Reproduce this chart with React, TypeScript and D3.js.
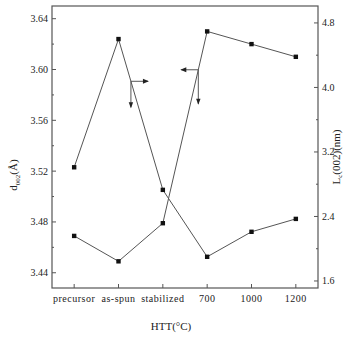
import React from 'react';
import * as d3 from 'd3';

const categories = ['precursor', 'as-spun', 'stabilized', '700', '1000', '1200'];
const d002 = [3.469, 3.449, 3.479, 3.630, 3.620, 3.610];
const lc = [3.01, 4.60, 2.73, 1.90, 2.21, 2.37];
const leftTicks = [3.44, 3.48, 3.52, 3.56, 3.60, 3.64];
const leftMinor = [3.46, 3.50, 3.54, 3.58, 3.62];
const rightTicks = [1.6, 2.4, 3.2, 4.0, 4.8];
const rightMinor = [2.0, 2.8, 3.6, 4.4];

const W = 344;
const H = 338;
const left = 52, right = 318, top = 6, bottom = 288;
const font = '"Liberation Serif", "DejaVu Serif", serif';
const lineCol = '#555';
const textCol = '#222';

const App = () => {
  const x = d3.scalePoint<string>().domain(categories).range([left, right]).padding(0.5);
  const yL = d3.scaleLinear().domain([3.428, 3.65]).range([bottom, top]);
  const yR = d3.scaleLinear().domain([1.513, 5.01]).range([bottom, top]);

  const lineL = d3.line<number>().x((_, i) => x(categories[i])!).y(d => yL(d));
  const lineR = d3.line<number>().x((_, i) => x(categories[i])!).y(d => yR(d));

  // annotation arrows sit on the connecting segments
  const along = (i: number, t: number, vals: number[], y: d3.ScaleLinear<number, number>) => {
    const x0 = x(categories[i])!, x1 = x(categories[i + 1])!;
    return [x0 + (x1 - x0) * t, y(vals[i]) + (y(vals[i + 1]) - y(vals[i])) * t];
  };
  const a1 = along(1, 0.28, lc, yR);
  const a2 = along(2, 0.8, d002, yL);

  const head = (px: number, py: number, dir: 'r' | 'l' | 'd') => {
    if (dir === 'r') return `M${px},${py}L${px - 6},${py - 2.5}L${px - 6},${py + 2.5}Z`;
    if (dir === 'l') return `M${px},${py}L${px + 6},${py - 2.5}L${px + 6},${py + 2.5}Z`;
    return `M${px},${py}L${px - 2.2},${py - 6}L${px + 2.2},${py - 6}Z`;
  };

  return (
    <svg width={W} height={H} style={{ position: 'absolute', left: 0, top: 0, background: '#fff' }}
      fontFamily={font}>
      <rect x={left} y={top} width={right - left} height={bottom - top} fill="none" stroke={lineCol} strokeWidth={1.2} />

      {/* left axis */}
      {leftTicks.map(t => (
        <g key={'l' + t}>
          <line x1={left} x2={left + 4} y1={yL(t)} y2={yL(t)} stroke={lineCol} />
          <text x={left - 4} y={yL(t)} dy="0.35em" textAnchor="end" fontSize={10} fill={textCol}>{t.toFixed(2)}</text>
        </g>
      ))}
      {leftMinor.map(t => (
        <line key={'lm' + t} x1={left} x2={left + 2} y1={yL(t)} y2={yL(t)} stroke={lineCol} />
      ))}

      {/* right axis */}
      {rightTicks.map(t => (
        <g key={'r' + t}>
          <line x1={right} x2={right - 4} y1={yR(t)} y2={yR(t)} stroke={lineCol} />
          <text x={right + 4} y={yR(t)} dy="0.35em" textAnchor="start" fontSize={10} fill={textCol}>{t.toFixed(1)}</text>
        </g>
      ))}
      {rightMinor.map(t => (
        <line key={'rm' + t} x1={right} x2={right - 2} y1={yR(t)} y2={yR(t)} stroke={lineCol} />
      ))}

      {/* bottom axis */}
      {categories.map(c => (
        <g key={'b' + c}>
          <line x1={x(c)} x2={x(c)} y1={bottom} y2={bottom - 4} stroke={lineCol} />
          <text x={x(c)} y={bottom + 14} textAnchor="middle" fontSize={10} letterSpacing={0.5} fill={textCol}>{c}</text>
        </g>
      ))}

      <text x={171} y={330} textAnchor="middle" fontSize={11} fill={textCol}>HTT(°C)</text>
      <text transform="translate(17,175) rotate(-90)" textAnchor="middle" fontSize={11} fill={textCol}>
        d<tspan fontSize={7} dy={3}>002</tspan><tspan dy={-3}>(Å)</tspan>
      </text>
      <text transform="translate(340,157) rotate(-90)" textAnchor="middle" fontSize={11} fill={textCol}>
        L<tspan fontSize={7} dy={1.5}>c</tspan><tspan dy={-1.5}>(002)(nm)</tspan>
      </text>

      {/* series */}
      <path d={lineL(d002)!} fill="none" stroke={lineCol} strokeWidth={1} />
      <path d={lineR(lc)!} fill="none" stroke={lineCol} strokeWidth={1} />
      {d002.map((v, i) => (
        <rect key={'ds' + i} x={x(categories[i])! - 2.2} y={yL(v) - 2.2} width={4.4} height={4.4} fill="#111" />
      ))}
      {lc.map((v, i) => (
        <rect key={'ls' + i} x={x(categories[i])! - 2.2} y={yR(v) - 2.2} width={4.4} height={4.4} fill="#111" />
      ))}

      {/* arrows: Lc -> right axis, d002 -> left axis */}
      <line x1={a1[0]} y1={a1[1]} x2={a1[0] + 17} y2={a1[1]} stroke={lineCol} />
      <path d={head(a1[0] + 18, a1[1], 'r')} fill="#222" />
      <line x1={a1[0]} y1={a1[1]} x2={a1[0]} y2={a1[1] + 26} stroke={lineCol} />
      <path d={head(a1[0], a1[1] + 27, 'd')} fill="#222" />

      <line x1={a2[0]} y1={a2[1]} x2={a2[0] - 17} y2={a2[1]} stroke={lineCol} />
      <path d={head(a2[0] - 18, a2[1], 'l')} fill="#222" />
      <line x1={a2[0]} y1={a2[1]} x2={a2[0]} y2={a2[1] + 34} stroke={lineCol} />
      <path d={head(a2[0], a2[1] + 35, 'd')} fill="#222" />
    </svg>
  );
};

export default App;
